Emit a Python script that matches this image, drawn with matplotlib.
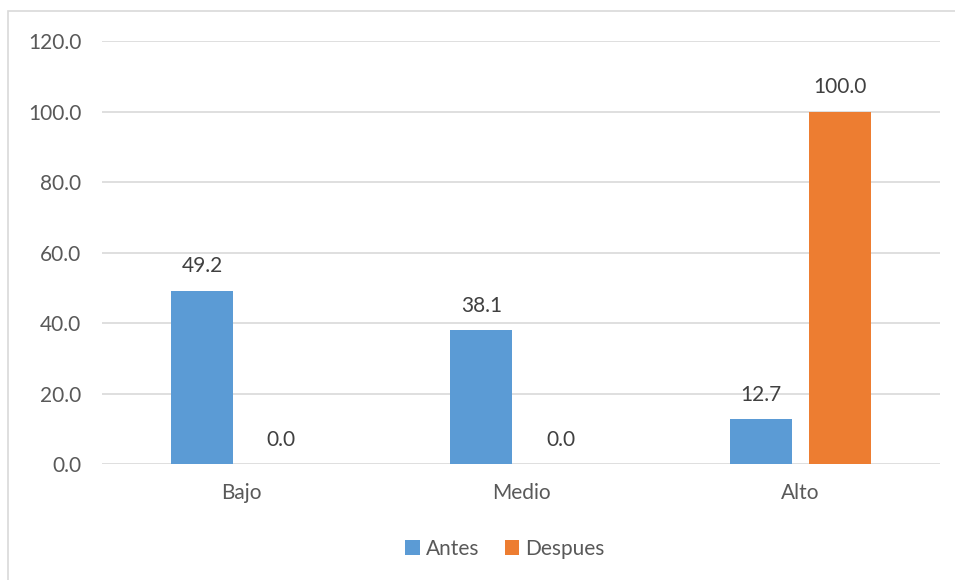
import matplotlib.pyplot as plt
import numpy as np
from matplotlib.patches import Rectangle

categories = ["Bajo", "Medio", "Alto"]
antes = [49.2, 38.1, 12.7]
despues = [0.0, 0.0, 100.0]
yticks = [0, 20, 40, 60, 80, 100, 120]

plt.rcParams['font.family'] = ['Lato', 'DejaVu Sans']

fig = plt.figure(figsize=(9.55, 5.8), dpi=100)
ax = fig.add_axes([0.1068, 0.2, 0.8775, 0.7293])

# outer chart frame (left/top edges visible)
fig.patches.append(Rectangle((8 / 955, -0.1), 1.2, 1 - 11 / 580 + 0.1,
                             transform=fig.transFigure, fill=False,
                             edgecolor='#D9D9D9', linewidth=1.2))

x = np.arange(len(categories))
w = 0.222
off = 0.142
b1 = ax.bar(x - off, antes, w, color='#5B9BD5', label='Antes', zorder=3)
b2 = ax.bar(x + off, despues, w, color='#ED7D31', label='Despues', zorder=3)

for bars, vals in ((b1, antes), (b2, despues)):
    for rect, v in zip(bars, vals):
        ax.text(rect.get_x() + rect.get_width() / 2, v + 4, f"{v:.1f}",
                ha='center', va='bottom', fontsize=15, color='#404040')

ax.set_xlim(-0.5, 2.5)
ax.set_ylim(0, 120)
ax.set_yticks(yticks)
ax.set_yticklabels([f"{t:.1f}" for t in yticks])
ax.set_xticks(x)
ax.set_xticklabels(categories)
ax.tick_params(axis='both', length=0, labelsize=15, labelcolor='#595959')
ax.tick_params(axis='y', pad=15)
ax.tick_params(axis='x', pad=14)
ax.yaxis.grid(True, color='#D9D9D9', linewidth=1.2, zorder=0)
for s in ax.spines.values():
    s.set_visible(False)

leg = fig.legend(loc='center', bbox_to_anchor=(505 / 955, 1 - 549 / 580), ncol=2,
                 frameon=False, fontsize=15, handlelength=0.7, handleheight=0.7,
                 handletextpad=0.3, columnspacing=1.2)
for t in leg.get_texts():
    t.set_color('#595959')

fig.savefig('out.png', dpi=100)
